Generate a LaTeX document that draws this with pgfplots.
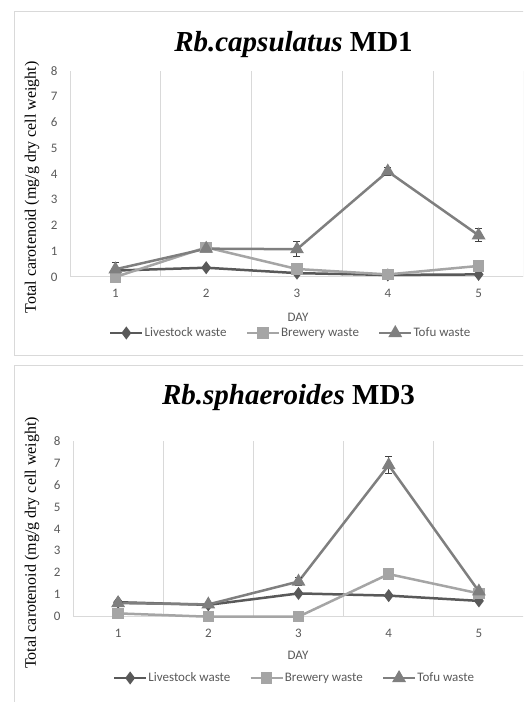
\documentclass[border=0pt]{standalone}
\usepackage{pgfplots}
\pgfplotsset{compat=1.18}
\usepackage{fontspec}
\setmainfont{Liberation Serif}
\newfontfamily\calibri{Carlito}
\definecolor{live}{HTML}{595959}
\definecolor{brew}{HTML}{A5A5A5}
\definecolor{tofu}{HTML}{7F7F7F}
\definecolor{ticktxt}{HTML}{595959}
\definecolor{gridc}{HTML}{D9D9D9}
\definecolor{errc}{HTML}{404040}
\newcommand{\cfont}{\calibri\fontsize{13}{13}\selectfont}
\pgfplotsset{
 mystyle/.style={
  scale only axis, xmin=0.5, xmax=5.5, ymin=0, ymax=8,
  axis x line*=bottom, axis y line*=left,
  axis line style={gridc, line width=1pt},
  xtick={1,...,5}, ytick={0,...,8}, major tick length=0pt,
  minor xtick={1.5,2.5,3.5,4.5,5.5}, minor x grid style={gridc, line width=1pt},
  xminorgrids, minor tick length=0pt,
  tick label style={font=\cfont, text=ticktxt},
  /pgf/number format/assume math mode=true,
  xticklabel style={yshift=-9pt}, yticklabel style={xshift=-9pt},
  clip=false,
  legend columns=3,
  legend style={draw=none, fill=none, font=\cfont, text=ticktxt,
    anchor=center, nodes={inner xsep=1pt},
    /tikz/every even column/.append style={column sep=18pt}, inner sep=0pt},
  legend image code/.code={\draw[mark repeat=2,mark phase=2,##1] plot coordinates {(0pt,0pt) (16pt,0pt) (32pt,0pt)};},
  every axis plot/.append style={line width=2.5pt},
 },
 livest/.style={color=live, mark=diamond*, mark size=4.5pt, mark options={solid}},
 brews/.style={color=brew, mark=square*, mark size=4.5pt, mark options={solid}},
 tofus/.style={color=tofu, mark=triangle*, mark size=5.5pt, mark options={solid},
   error bars/.cd, y dir=both, y explicit,
   error bar style={line width=1pt, color=errc},
   error mark options={rotate=90, mark size=3.5pt, line width=1pt, color=errc}},
}
\begin{document}
\begin{tikzpicture}
\useasboundingbox (0,0) rectangle (523pt,702pt);
\clip (0,0) rectangle (523pt,702pt);
% frames
\draw[gridc, line width=1pt] (14pt,346pt) rectangle (545pt,690pt);
\draw[gridc, line width=1pt] (14pt,-20pt) rectangle (545pt,336pt);
% titles
\node[anchor=base, font=\fontsize{29}{29}\selectfont\bfseries] at (293.5pt,650pt) {\textit{Rb.capsulatus} MD1};
\node[anchor=base, font=\fontsize{29}{29}\selectfont\bfseries] at (288.5pt,297pt) {\textit{Rb.sphaeroides} MD3};
% y labels
\node[rotate=90, font=\fontsize{16}{16}\selectfont] at (32pt,514.5pt) {Total carotenoid (mg/g dry cell weight)};
\node[rotate=90, font=\fontsize{16}{16}\selectfont] at (32pt,159pt) {Total carotenoid (mg/g dry cell weight)};
% x labels
\node[font=\cfont, text=ticktxt] at (298pt,385pt) {DAY};
\node[font=\cfont, text=ticktxt] at (298pt,47pt) {DAY};

\begin{axis}[mystyle, at={(70pt,425pt)}, anchor=south west, width=454pt, height=206pt,
  legend style={at={(axis description cs:0.485,-0.272)}}]
\addplot[livest] coordinates {(1,0.25) (2,0.36) (3,0.15) (4,0.08) (5,0.1)};
\addlegendentry{Livestock waste}
\addplot[brews] coordinates {(1,0.0) (2,1.15) (3,0.31) (4,0.1) (5,0.43)};
\addlegendentry{Brewery waste}
\addplot[tofus] table[x=x, y=y, y error=e] {
x y e
1 0.3 0.28
2 1.1 0.05
3 1.08 0.3
4 4.1 0.15
5 1.62 0.25
};
\addlegendentry{Tofu waste}
\end{axis}

\begin{axis}[mystyle, at={(73pt,85.3pt)}, anchor=south west, width=451pt, height=175.7pt,
  legend style={at={(axis description cs:0.49,-0.349)}}]
\addplot[livest] coordinates {(1,0.66) (2,0.54) (3,1.06) (4,0.96) (5,0.72)};
\addlegendentry{Livestock waste}
\addplot[brews] coordinates {(1,0.15) (2,0.0) (3,0.0) (4,1.94) (5,1.06)};
\addlegendentry{Brewery waste}
\addplot[tofus] table[x=x, y=y, y error=e] {
x y e
1 0.62 0.05
2 0.56 0.05
3 1.6 0.2
4 6.9 0.38
5 1.15 0.05
};
\addlegendentry{Tofu waste}
\end{axis}
\end{tikzpicture}
\end{document}
